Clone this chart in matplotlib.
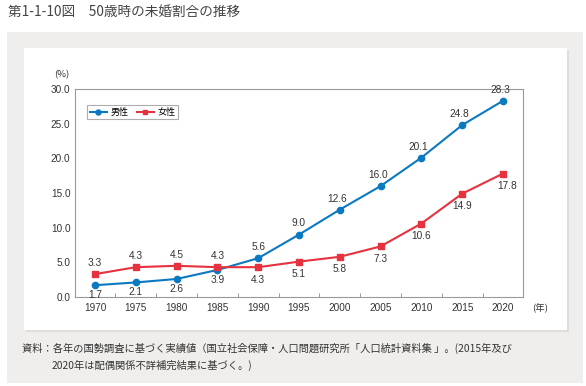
import matplotlib
matplotlib.use("Agg")
import matplotlib.pyplot as plt
from matplotlib.patches import Rectangle

plt.rcParams['font.family'] = ['Noto Sans CJK JP', 'DejaVu Sans']
NUMFONT = ['Liberation Sans', 'Noto Sans CJK JP']

years = ["1970", "1975", "1980", "1985", "1990", "1995", "2000", "2005", "2010", "2015", "2020"]
male = [1.7, 2.1, 2.6, 3.9, 5.6, 9.0, 12.6, 16.0, 20.1, 24.8, 28.3]
female = [3.3, 4.3, 4.5, 4.3, 4.3, 5.1, 5.8, 7.3, 10.6, 14.9, 17.8]
yticks = [0, 5, 10, 15, 20, 25, 30]
title = "第1-1-10図　50歳時の未婚割合の推移"
note1 = "資料：各年の国勢調査に基づく実績値（国立社会保障・人口問題研究所「人口統計資料集 」。(2015年及び"
note2 = "2020年は配偶関係不詳補完結果に基づく。)"

W, H = 586, 386
fig = plt.figure(figsize=(W / 100, H / 100), dpi=100)
fig.patch.set_facecolor("white")

def fx(px):
    return px / W

def fy(py):
    return 1 - py / H

# gray panel
fig.patches.append(Rectangle((fx(7), fy(383)), fx(583) - fx(7), fy(32) - fy(383),
                             transform=fig.transFigure, facecolor="#efeeec", edgecolor="none", zorder=0))
# shadow
fig.patches.append(Rectangle((fx(26), fy(332)), fx(569) - fx(26), fy(50) - fy(332),
                             transform=fig.transFigure, facecolor="#e0dedb", edgecolor="none", zorder=0.5))
# white panel
fig.patches.append(Rectangle((fx(24), fy(330)), fx(567) - fx(24), fy(48) - fy(330),
                             transform=fig.transFigure, facecolor="white", edgecolor="none", zorder=1))

fig.text(fx(8), fy(12), title, fontsize=9.8, color="#444444", va="center", ha="left")

ax = fig.add_axes([fx(74.6), fy(297), fx(523.4) - fx(74.6), fy(89) - fy(297)])
ax.set_zorder(2)
ax.set_facecolor("white")

x = list(range(len(years)))
blue = "#0b79c0"
red = "#e5323e"
ax.plot(x, male, color=blue, lw=1.5, marker="o", ms=4.5, label="男性", zorder=3)
ax.plot(x, female, color=red, lw=1.5, marker="s", ms=4.2, label="女性", zorder=3)

ax.set_xlim(-0.5, len(years) - 0.5)
ax.set_ylim(0, 30)
ax.set_xticks(x)
ax.set_xticklabels(years, family=NUMFONT)
ax.set_xticks([i + 0.5 for i in x[:-1]], minor=True)
ax.set_yticks(yticks)
ax.set_yticklabels([f"{v:.1f}" for v in yticks], family=NUMFONT)
ax.tick_params(axis="x", which="major", length=0, labelsize=7.2, colors="#333333", pad=4)
ax.tick_params(axis="x", which="minor", length=3, direction="in", color="#888888")
ax.tick_params(axis="y", length=0, labelsize=7.2, colors="#333333", pad=3)
for s in ax.spines.values():
    s.set_color("#999999")
    s.set_linewidth(0.8)

fs = 7.3
tc = "#333333"
for i, v in enumerate(male):
    if i < 4:
        ax.annotate(f"{v:.1f}", (i, v), xytext=(0, -7.2), textcoords="offset points",
                    ha="center", va="center", fontsize=fs, color=tc, family=NUMFONT)
    else:
        dx = -2 if i >= 6 else 0
        ax.annotate(f"{v:.1f}", (i, v), xytext=(dx, 8), textcoords="offset points",
                    ha="center", va="center", fontsize=fs, color=tc, family=NUMFONT)
for i, v in enumerate(female):
    if i < 4:
        ax.annotate(f"{v:.1f}", (i, v), xytext=(0, 8), textcoords="offset points",
                    ha="center", va="center", fontsize=fs, color=tc, family=NUMFONT)
    else:
        dx = 3 if i == len(female) - 1 else 0
        ax.annotate(f"{v:.1f}", (i, v), xytext=(dx, -9), textcoords="offset points",
                    ha="center", va="center", fontsize=fs, color=tc, family=NUMFONT)

leg = ax.legend(loc="upper left", bbox_to_anchor=(0.018, 0.945), ncol=2, fontsize=6.5,
                frameon=True, fancybox=False, handlelength=1.9, handletextpad=0.4,
                columnspacing=0.9, borderpad=0.3, markerscale=0.8)
leg.get_frame().set_edgecolor("#999999")
leg.get_frame().set_linewidth(0.8)

fig.text(fx(62), fy(75), "(%)", fontsize=6.8, color=tc, ha="center", va="center")
fig.text(fx(540), fy(307), "(年)", fontsize=6.8, color=tc, ha="center", va="center")

fig.text(fx(22), fy(348), note1, fontsize=7.4, color=tc, ha="left", va="center")
fig.text(fx(52), fy(365), note2, fontsize=7.4, color=tc, ha="left", va="center")

fig.savefig("out.png", dpi=100)
